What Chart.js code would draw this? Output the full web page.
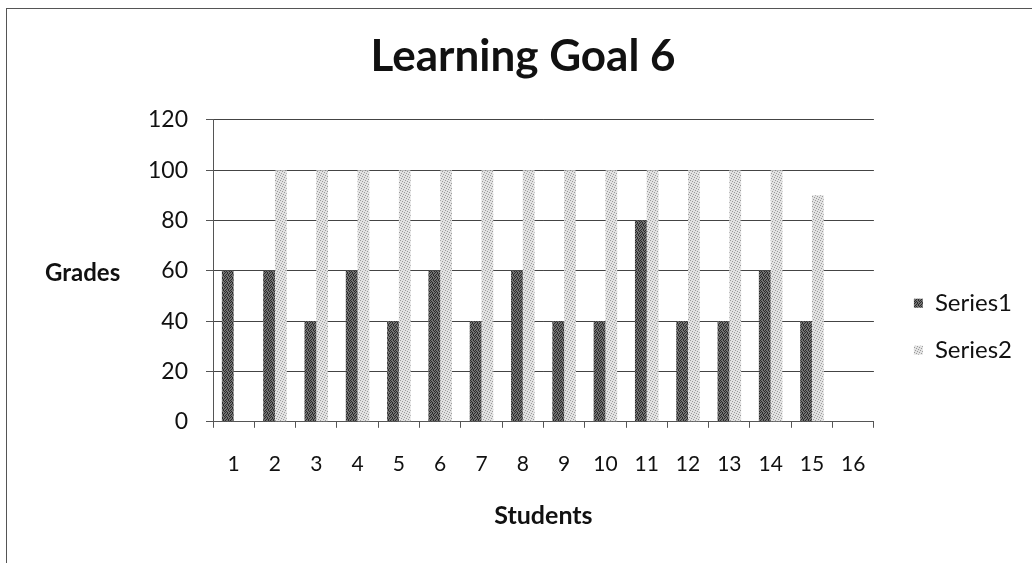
<!DOCTYPE html>
<html>
<head>
<meta charset="utf-8">
<script src="https://cdn.jsdelivr.net/npm/chart.js@4.4.1/dist/chart.umd.min.js"></script>
<style>
  html, body { margin: 0; padding: 0; background: #fff; overflow: hidden; }
  #wrap { position: relative; width: 1032px; height: 563px; }
  #frame { position: absolute; left: 6px; top: 8px; width: 1100px; height: 600px;
           border-left: 1px solid #555; border-top: 1px solid #555; pointer-events: none; }
</style>
</head>
<body>
<div id="wrap">
  <canvas id="goalChart" width="1032" height="563"></canvas>
  <div id="frame"></div>
</div>
<script>
// Learning Goal 6 data
const students = ['1', '2', '3', '4', '5', '6', '7', '8', '9', '10', '11', '12', '13', '14', '15', '16'];
const series1 = [60, 60, 40, 60, 40, 60, 40, 60, 40, 40, 80, 40, 40, 60, 40, null];
const series2 = [null, 100, 100, 100, 100, 100, 100, 100, 100, 100, 100, 100, 100, 100, 90, null];
const gradeTicks = [0, 20, 40, 60, 80, 100, 120];

const FONT = 'Lato, "Open Sans", sans-serif';

// small speckled fill like the printed chart
function stipple(base, dot, rows) {
    const c = document.createElement('canvas');
    c.width = rows[0].length;
    c.height = rows.length;
    const g = c.getContext('2d');
    g.fillStyle = base;
    g.fillRect(0, 0, c.width, c.height);
    g.fillStyle = dot;
    rows.forEach((row, y) => {
        [...row].forEach((ch, x) => { if (ch === '#') g.fillRect(x, y, 1, 1); });
    });
    return g.createPattern(c, 'repeat');
}

const darkFill = stipple('#737373', '#2a2a2a', ['#..#.', '.#..#', '#.#..', '..#.#', '.#.#.']);
const lightFill = stipple('#e2e2e2', '#9a9a9a', ['#....', '..#..', '....#', '.#...', '...#.']);

// horizontal "Grades" label, as in the original
const sideTitle = {
    id: 'sideTitle',
    afterDraw(chart) {
        const ctx = chart.ctx;
        const area = chart.chartArea;
        ctx.save();
        ctx.font = 'bold 24px ' + FONT;
        ctx.fillStyle = '#111';
        ctx.textAlign = 'left';
        ctx.textBaseline = 'middle';
        ctx.fillText('Grades', 45, (area.top + area.bottom) / 2 + 2);
        ctx.restore();
    }
};

const ctx = document.getElementById('goalChart');
new Chart(ctx, {
    type: 'bar',
    data: {
        labels: students,
        datasets: [{
            label: 'Series1',
            data: series1,
            backgroundColor: darkFill,
            borderWidth: 0
        }, {
            label: 'Series2',
            data: series2,
            backgroundColor: lightFill,
            borderWidth: 0
        }]
    },
    options: {
        responsive: false,
        animation: false,
        layout: {
            padding: { left: 24, right: 10, top: 10, bottom: 32 }
        },
        datasets: {
            bar: { categoryPercentage: 0.57, barPercentage: 1.0 }
        },
        scales: {
            x: {
                grid: {
                    display: true,
                    drawOnChartArea: false,
                    offset: true,
                    tickLength: 6,
                    color: '#555'
                },
                border: { color: '#555' },
                ticks: {
                    color: '#111',
                    font: { family: FONT, size: 21 },
                    padding: 24
                },
                title: {
                    display: true,
                    text: 'Students',
                    color: '#111',
                    font: { family: FONT, size: 25, weight: 'bold' },
                    padding: { top: 0, bottom: 0 }
                }
            },
            y: {
                min: 0,
                max: 120,
                afterBuildTicks: (scale) => {
                    scale.ticks = gradeTicks.map(v => ({ value: v }));
                },
                afterFit: (scale) => { scale.width = 189; },
                grid: {
                    color: '#444',
                    borderDash: [3, 2],
                    tickLength: 7,
                    tickColor: '#555'
                },
                border: { color: '#555' },
                ticks: {
                    color: '#111',
                    font: { family: FONT, size: 23 },
                    padding: 18
                }
            },
            gap: {
                position: 'right',
                display: true,
                grid: { display: false },
                border: { display: false },
                ticks: { display: false },
                afterFit: (scale) => { scale.width = 17; }
            }
        },
        plugins: {
            title: {
                display: true,
                text: 'Learning Goal 6',
                color: '#111',
                font: { family: FONT, size: 44, weight: 'bold' },
                padding: { top: 20, bottom: 37 }
            },
            legend: {
                position: 'right',
                title: {
                    display: true,
                    text: ' ',
                    padding: { top: 98, bottom: 0 }
                },
                labels: {
                    color: '#111',
                    font: { family: FONT, size: 24 },
                    boxWidth: 9,
                    boxHeight: 9,
                    padding: 23
                }
            },
            tooltip: { enabled: false }
        }
    },
    plugins: [sideTitle]
});
</script>
</body>
</html>
